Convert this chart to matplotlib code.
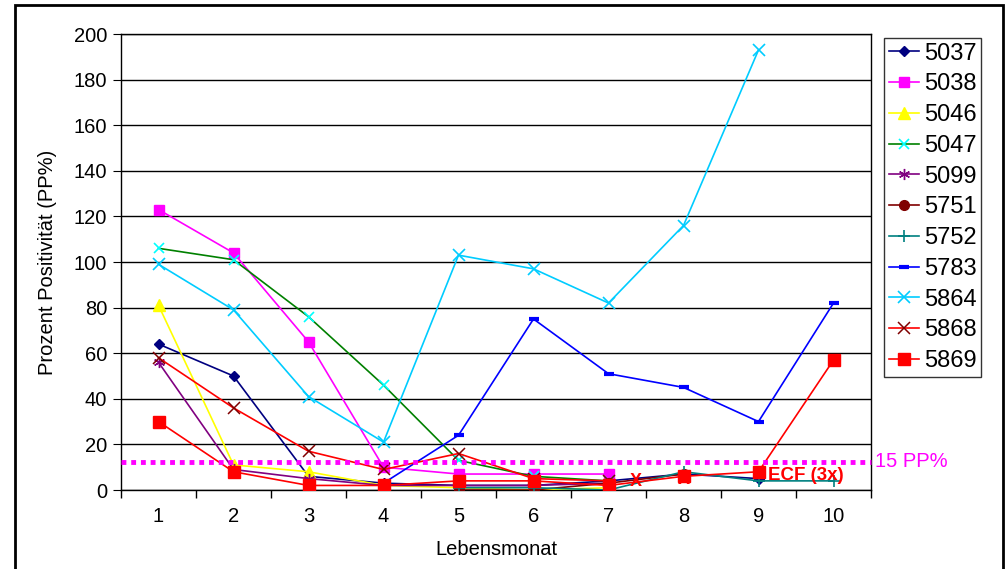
import numpy as np
import matplotlib
matplotlib.use("Agg")
import matplotlib.pyplot as plt
from matplotlib.patches import Rectangle

plt.rcParams['font.family'] = ['Liberation Sans', 'DejaVu Sans']

months = [1, 2, 3, 4, 5, 6, 7, 8, 9, 10]
nan = np.nan

s5037 = [64, 50, 6, 3, 2, 2, 4, 7, 5, nan]
s5038 = [123, 104, 65, 10, 7, 7, 7, nan, nan, nan]
s5046 = [81, 11, 8, 2, 1, 0, 1, nan, nan, nan]
s5047 = [106, 101, 76, 46, 13, 6, 4, nan, nan, nan]
s5099 = [56, 9, 5, 2, 2, 2, 3, nan, nan, nan]
s5751 = [nan, nan, nan, nan, 0, 0, 3, 7, nan, nan]
s5752 = [nan, nan, nan, nan, 1, 1, 0, 8, 4, 4]
s5783 = [nan, nan, nan, 3, 24, 75, 51, 45, 30, 82]
s5864 = [99, 79, 41, 21, 103, 97, 82, 116, 193, nan]
s5868 = [58, 36, 17, 9, 16, 5, 4, nan, nan, nan]
s5869 = [30, 8, 2, 2, 4, 4, 2, 6, 8, 57]

threshold = 12.5
threshold_label = "15 PP%"
ecf_x = [7.37, 8.0]
ecf_y = [3.6, 4.4]
ecf_label = "ECF (3x)"

series = [
    ("5037", s5037, dict(color="#000080", marker="D", ms=5, mfc="#000080", mec="#000080")),
    ("5038", s5038, dict(color="#FF00FF", marker="s", ms=7, mfc="#FF00FF", mec="#FF00FF")),
    ("5046", s5046, dict(color="#FFFF00", marker="^", ms=8, mfc="#FFFF00", mec="#FFFF00")),
    ("5047", s5047, dict(color="#008000", marker="x", ms=7, mfc="#00FFFF", mec="#00FFFF", mew=1.2)),
    ("5099", s5099, dict(color="#800080", marker=(6, 2, 0), ms=8, mec="#800080", mew=1.0)),
    ("5751", s5751, dict(color="#800000", marker="o", ms=7, mfc="#800000", mec="#800000")),
    ("5752", s5752, dict(color="#008080", marker="+", ms=8, mec="#008080", mew=1.2)),
    ("5783", s5783, dict(color="#0000FF", marker="_", ms=7, mec="#0000FF", mew=3)),
    ("5864", s5864, dict(color="#00CCFF", marker="x", ms=9, mec="#00CCFF", mew=1.2)),
    ("5868", s5868, dict(color="#FF0000", marker="x", ms=8, mec="#800000", mew=1.1)),
    ("5869", s5869, dict(color="#FF0000", marker="s", ms=8, mfc="#FF0000", mec="#FF0000")),
]

W, H = 1008, 569
fig = plt.figure(figsize=(W / 100, H / 100), dpi=100)
ax = fig.add_axes([121 / W, (H - 490) / H, 750 / W, 456 / H])

for name, vals, st in series:
    y = np.array(vals, dtype=float)
    x = np.array(months, dtype=float)
    m = ~np.isnan(y)
    ax.plot(x[m], y[m], lw=1.2, label=name, zorder=3, **st)

ax.axhline(threshold, color="#FF00FF", lw=3.5, ls=(0, (1, 1)), zorder=4, clip_on=False)
ax.text(10.55, threshold, threshold_label, color="#FF00FF", fontsize=14.5,
        va="center", ha="left")
for xx, yy in zip(ecf_x, ecf_y):
    ax.text(xx, yy, "X", color="#FF0000", fontsize=13, fontweight="bold",
            ha="center", va="center", zorder=5)
ax.text(9.13, 6.5, ecf_label, color="#FF0000", fontsize=13.5, fontweight="bold",
        ha="left", va="center", zorder=5)

ax.set_xlim(0.5, 10.5)
ax.set_ylim(0, 200)
ax.set_yticks(np.arange(0, 201, 20))
ax.set_xticks(months)
ax.set_xticks(np.arange(0.5, 10.6, 1), minor=True)
ax.tick_params(axis="x", which="major", length=0, pad=12, labelsize=14.5)
ax.tick_params(axis="x", which="minor", length=6, direction="out", width=1)
ax.tick_params(axis="y", length=6, direction="out", labelsize=14.5, pad=4)
ax.yaxis.grid(True, color="black", lw=1)
ax.set_axisbelow(True)
for sp in ax.spines.values():
    sp.set_color("black")
    sp.set_linewidth(1)
ax.set_xlabel("Lebensmonat", fontsize=14.5, labelpad=10)
ax.set_ylabel("Prozent Positivität (PP%)", fontsize=14.5, labelpad=12)

leg = fig.legend(loc="upper left", bbox_to_anchor=(884 / W, 1 - 38 / H),
                 fontsize=17, frameon=True, fancybox=False, edgecolor="black",
                 handlelength=1.3, handletextpad=0.2, labelspacing=0.37,
                 borderpad=0.2, borderaxespad=0)
leg.get_frame().set_linewidth(1)

fig.patches.append(Rectangle((15 / W, -0.05), (1003 - 15) / W, 1 - 5 / H + 0.05,
                             transform=fig.transFigure, fill=False,
                             edgecolor="black", lw=2))

fig.savefig("out.png", dpi=100)
